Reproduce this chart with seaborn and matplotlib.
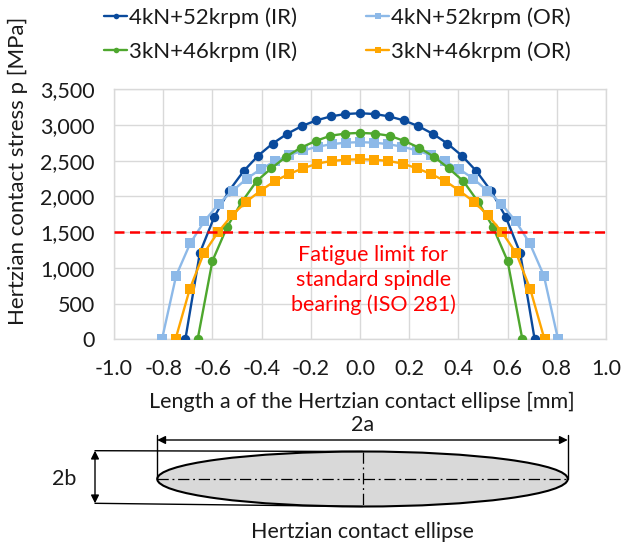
import numpy as np
import pandas as pd
import matplotlib
matplotlib.use("Agg")
import matplotlib.pyplot as plt
import seaborn as sns
from matplotlib.patches import Ellipse

# ---- data ----
x_ir4 = [-0.71, -0.651, -0.592, -0.533, -0.473, -0.414, -0.355, -0.296, -0.237, -0.178, -0.118, -0.059, 0.0,
         0.059, 0.118, 0.178, 0.237, 0.296, 0.355, 0.414, 0.473, 0.533, 0.592, 0.651, 0.71]
p_ir4 = [0, 1210, 1717, 2075, 2355, 2571, 2741, 2877, 2984, 3065, 3121, 3154, 3165,
         3154, 3121, 3065, 2984, 2877, 2741, 2571, 2355, 2075, 1717, 1210, 0]

x_or4 = [-0.805, -0.7475, -0.69, -0.6325, -0.575, -0.5175, -0.46, -0.4025, -0.345, -0.2875, -0.23, -0.1725,
         -0.115, -0.0575, 0.0, 0.0575, 0.115, 0.1725, 0.23, 0.2875, 0.345, 0.4025, 0.46, 0.5175, 0.575,
         0.6325, 0.69, 0.7475, 0.805]
p_or4 = [0, 890, 1345, 1655, 1895, 2080, 2250, 2385, 2494, 2578, 2645, 2696, 2732, 2753, 2760,
         2753, 2732, 2696, 2645, 2578, 2494, 2385, 2250, 2080, 1895, 1655, 1345, 890, 0]

x_ir3 = [-0.66, -0.60, -0.54, -0.48, -0.42, -0.36, -0.30, -0.24, -0.18, -0.12, -0.06, 0.0,
         0.06, 0.12, 0.18, 0.24, 0.30, 0.36, 0.42, 0.48, 0.54, 0.60, 0.66]
p_ir3 = [0, 1096, 1575, 1925, 2215, 2395, 2557, 2683, 2777, 2850, 2880, 2890,
         2880, 2850, 2777, 2683, 2557, 2395, 2215, 1925, 1575, 1096, 0]

x_or3 = [-0.75, -0.692, -0.635, -0.577, -0.519, -0.462, -0.404, -0.346, -0.288, -0.231, -0.173, -0.115, -0.058,
         0.0, 0.058, 0.115, 0.173, 0.231, 0.288, 0.346, 0.404, 0.462, 0.519, 0.577, 0.635, 0.692, 0.75]
p_or3 = [0, 704, 1204, 1500, 1741, 1927, 2081, 2217, 2315, 2395, 2460, 2497, 2515,
         2520, 2515, 2497, 2460, 2395, 2315, 2217, 2081, 1927, 1741, 1500, 1204, 704, 0]

labels = ["4kN+52krpm (IR)", "4kN+52krpm (OR)", "3kN+46krpm (IR)", "3kN+46krpm (OR)"]
colors = ["#0A4A9C", "#8DB9E8", "#4EA72E", "#FFA600"]
markers = ["o", "s", "o", "s"]

fatigue_limit = 1500
x_ticks = [-1.0, -0.8, -0.6, -0.4, -0.2, 0.0, 0.2, 0.4, 0.6, 0.8, 1.0]
x_ticklabels = ["-1.0", "-0.8", "-0.6", "-0.4", "-0.2", "0.0", "0.2", "0.4", "0.6", "0.8", "1.0"]
y_ticks = [0, 500, 1000, 1500, 2000, 2500, 3000, 3500]
y_ticklabels = ["0", "500", "1,000", "1,500", "2,000", "2,500", "3,000", "3,500"]

sns.set_theme(style="white")
plt.rcParams['font.family'] = ['Lato', 'DejaVu Sans']
FS = 15.5
TXT = "#1a1a1a"

W, H = 622, 546
fig = plt.figure(figsize=(W / 100, H / 100), dpi=100)

# main chart area (pixel box of the reference)
L, R, T, B = 114, 606, 89.3, 339.3
ax = fig.add_axes([L / W, 1 - B / H, (R - L) / W, (B - T) / H])

series = [(x_ir4, p_ir4), (x_or4, p_or4), (x_ir3, p_ir3), (x_or3, p_or3)]
for (xs, ps), lab, c, m in zip(series, labels, colors, markers):
    sns.lineplot(x=xs, y=ps, ax=ax, color=c, marker=m, markersize=6.8 if m == "o" else 7.2,
                 markeredgewidth=0, linewidth=1.7, sort=False, label=lab, zorder=3)

ax.axhline(fatigue_limit, color="#FF0000", linestyle=(0, (4, 2.2)), linewidth=1.8, zorder=4)
ax.text(0.054, 830, "Fatigue limit for\nstandard spindle\nbearing (ISO 281)",
        color="#FF0000", fontsize=FS, ha="center", va="center", linespacing=1.3, zorder=5)

ax.set_xlim(-1.0, 1.0)
ax.set_ylim(0, 3500)
ax.set_xticks(x_ticks)
ax.set_xticklabels(x_ticklabels, fontsize=FS)
ax.set_yticks(y_ticks)
ax.set_yticklabels(y_ticklabels, fontsize=FS)
ax.tick_params(axis="both", length=0, pad=14, colors=TXT)
ax.grid(True, color="#D9D9D9", linewidth=1)
for s in ax.spines.values():
    s.set_color("#D9D9D9")
    s.set_linewidth(1)
ax.set_xlabel("")
ax.set_ylabel("")

fig.text(362 / W, 1 - 402 / H, "Length a of the Hertzian contact ellipse [mm]",
         fontsize=FS, ha="center", va="center", color=TXT)
fig.text(18 / W, 1 - 171 / H, "Hertzian contact stress p [MPa]",
         fontsize=16, ha="center", va="center", rotation=90, color=TXT)

# legend, two columns above the chart
h, l = ax.get_legend_handles_labels()
ax.get_legend().remove()
order = [0, 2, 1, 3]
leg = fig.legend([h[i] for i in order], [l[i] for i in order], ncol=2, frameon=False,
                 loc="upper left", bbox_to_anchor=(104 / W, 1 - 7 / H), fontsize=16,
                 handlelength=1.05, handletextpad=0.08, columnspacing=3.1, labelspacing=0.62,
                 borderpad=0, borderaxespad=0)
for lh in leg.legend_handles:
    lh.set_markersize(4)
for t in leg.get_texts():
    t.set_color(TXT)

# ---- contact ellipse sketch below ----
ax2 = fig.add_axes([0, 0, 1, 1], zorder=-1)
ax2.set_xlim(0, W)
ax2.set_ylim(H, 0)
ax2.axis("off")

cx, cy, ew, eh = 362.5, 479, 410.5, 55
ax2.add_patch(Ellipse((cx, cy), ew, eh, facecolor="#D9D9D9", edgecolor="black", linewidth=1.5))
xl, xr = cx - ew / 2, cx + ew / 2
ax2.plot([xl, xr], [cy, cy], color="black", linewidth=0.9, linestyle=(0, (9, 3, 1.5, 3)))
ax2.plot([cx, cx], [cy - eh / 2, cy + eh / 2], color="black", linewidth=0.9, linestyle=(0, (9, 3, 1.5, 3)))
# 2a dimension
ax2.plot([xl, xl], [435, cy], color="black", linewidth=1)
ax2.plot([xr, xr], [435, cy], color="black", linewidth=1)
ax2.annotate("", xy=(xl, 440), xytext=(xr, 440),
             arrowprops=dict(arrowstyle="<|-|>", color="black", lw=1, mutation_scale=12, shrinkA=0, shrinkB=0))
ax2.text(cx, 425, "2a", fontsize=FS, ha="center", va="center", color=TXT)
# 2b dimension
ax2.plot([95, cx], [cy - eh / 2 - 0.8, cy - eh / 2], color="black", linewidth=1)
ax2.plot([95, cx], [503.3, cy + eh / 2], color="black", linewidth=1)
ax2.annotate("", xy=(95, cy - eh / 2 - 0.8), xytext=(95, 503.3),
             arrowprops=dict(arrowstyle="<|-|>", color="black", lw=1, mutation_scale=12, shrinkA=0, shrinkB=0))
ax2.text(64, cy, "2b", fontsize=FS, ha="center", va="center", color=TXT)
ax2.text(cx, 532, "Hertzian contact ellipse", fontsize=FS, ha="center", va="center", color=TXT)

fig.savefig("out.png", dpi=100)
